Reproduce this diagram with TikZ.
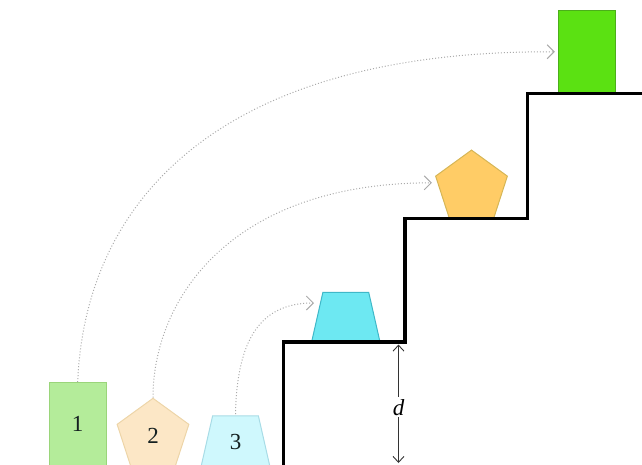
\documentclass[tikz,border=0pt]{standalone}
\usepackage{fontspec}
\setmainfont{Liberation Serif}
\usetikzlibrary{shapes.geometric,arrows.meta,calc}
\definecolor{gfill}{HTML}{5BE112}
\definecolor{gline}{HTML}{4BAF1A}
\definecolor{ofill}{HTML}{FFCC66}
\definecolor{oline}{HTML}{D6B656}
\definecolor{cfill}{HTML}{6DE8F2}
\definecolor{cline}{HTML}{3FB8C8}
\definecolor{lgfill}{HTML}{B4EC9A}
\definecolor{lgline}{HTML}{9AD57A}
\definecolor{lofill}{HTML}{FCE7C6}
\definecolor{loline}{HTML}{EDD5A8}
\definecolor{lcfill}{HTML}{CFF8FD}
\definecolor{lcline}{HTML}{A8DCE6}
\definecolor{arrowgray}{HTML}{AAAAAA}
\definecolor{labeltext}{HTML}{142020}
\definecolor{dimgray}{HTML}{333333}
\begin{document}
\begin{tikzpicture}[x=1pt,y=-1pt,
  blockrect/.style={rectangle,minimum width=56.7pt,minimum height=83pt,inner sep=0pt,line width=1pt},
  blockpent/.style={regular polygon,regular polygon sides=5,minimum size=75.4pt,inner sep=0pt,line width=1pt},
  lbl/.style={font=\fontsize{23}{26}\selectfont,text=labeltext},
  move/.style={draw=arrowgray,dotted,line width=1pt,-{Straight Barb[length=7pt,width=14pt,line width=1pt]}},
  dimarrow/.style={draw=dimgray,line width=0.9pt,{Straight Barb[length=6pt,width=11pt,line width=0.9pt]}-{Straight Barb[length=6pt,width=11pt,line width=0.9pt]}},
  stair/.style={draw=black,line width=3.5pt,line join=miter}
]
\useasboundingbox (0,0) rectangle (642,464);
\clip (0,0) rectangle (642,464);

% faded shapes at the bottom left
\node[blockrect,fill=lgfill,draw=lgline,lbl] (r1) at (77.7,424.2) {1};
\node[blockpent,fill=lofill,draw=loline,lbl] (p2) at (153,436) {2};
\draw[fill=lcfill,draw=lcline,line width=1pt] (212.6,415.9) -- (258.4,415.9) -- (269.7,465.6) -- (201.3,465.6) -- cycle;
\node[lbl] (t3) at (235.5,442) {3};
\coordinate (t3n) at (235.5,414);

% shapes on the steps
\draw[fill=cfill,draw=cline,line width=1pt] (322.9,292.3) -- (368.7,292.3) -- (380,342) -- (311.6,342) -- cycle;
\coordinate (c3tip) at (314,303);
\node[blockpent,fill=ofill,draw=oline] (p1) at (471.5,187.8) {};
\node[blockrect,fill=gfill,draw=gline] (g) at (586.7,51.8) {};

% staircase
\draw[stair] (283.5,470) -- (283.5,342) -- (405,342) -- (405,218.3) -- (527.3,218.3) -- (527.3,93.3) -- (650,93.3);

% moves
\draw[move] (r1.north) .. controls (85,200) and (220,50) .. ([xshift=-3pt]g.west);
\draw[move] (p2.north) .. controls (153,300) and (230,183) .. ([shift={(-7pt,5pt)}]p1.west);
\draw[move] (t3n) .. controls (237,340) and (260,303) .. (c3tip);

% dimension
\coordinate (dtop) at (398.5,344.5);
\coordinate (dbot) at (398.5,463);
\draw[dimarrow] (dtop) -- (dbot) node[pos=0.53,fill=white,inner sep=2pt,font=\fontsize{23}{26}\selectfont] (dl) {\itshape d};
\end{tikzpicture}
\end{document}
